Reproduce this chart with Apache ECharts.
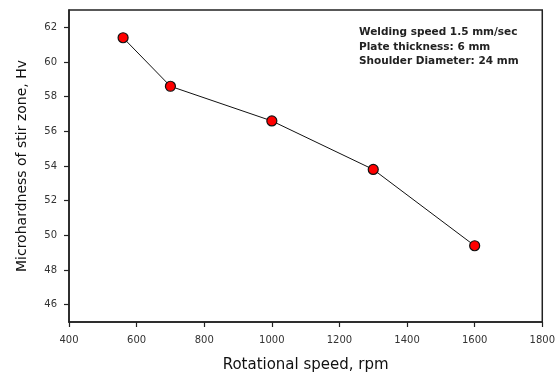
<!DOCTYPE html>
<html><head><meta charset="utf-8">
<script src="https://cdn.jsdelivr.net/npm/echarts@6/dist/echarts.min.js"></script>
<style>html,body{margin:0;padding:0;background:#fff}#c{width:558px;height:378px}</style>
</head><body><div id="c"></div>
<script>
const speeds = [560, 700, 1000, 1300, 1600];
const hardness = [61.4, 58.6, 56.6, 53.8, 49.4];
const yTicks = [46, 48, 50, 52, 54, 56, 58, 60, 62];
const xTicks = [400, 600, 800, 1000, 1200, 1400, 1600, 1800];
const notes = ['Welding speed 1.5 mm/sec', 'Plate thickness: 6 mm', 'Shoulder Diameter: 24 mm'];

const chart = echarts.init(document.getElementById('c'));
chart.setOption({
  animation: false,
  grid: {left: 69, right: 15, top: 10, bottom: 55, show: true, borderColor: '#222', borderWidth: 1.5},
  xAxis: {
    type: 'value', min: 400, max: 1800, interval: 200,
    name: 'Rotational speed, rpm', nameLocation: 'middle', nameGap: 36,
    nameTextStyle: {fontFamily: 'DejaVu Sans', fontSize: 15, color: '#111'},
    axisLine: {lineStyle: {color: '#222', width: 1.5}},
    axisTick: {show: true, length: 5, inside: false, customValues: xTicks, lineStyle: {color: '#222', width: 1.2}},
    axisLabel: {fontFamily: 'DejaVu Sans', fontSize: 10, color: '#333', margin: 13,
      customValues: xTicks, formatter: v => String(v)},
    splitLine: {show: false}
  },
  yAxis: {
    type: 'value', min: 45, max: 63,
    name: 'Microhardness of stir zone, Hv', nameLocation: 'middle', nameGap: 40,
    nameTextStyle: {fontFamily: 'DejaVu Sans', fontSize: 14, color: '#111'},
    axisLine: {lineStyle: {color: '#222', width: 1.5}},
    axisTick: {show: true, length: 5, customValues: yTicks, lineStyle: {color: '#222', width: 1.2}},
    axisLabel: {fontFamily: 'DejaVu Sans', fontSize: 10, color: '#333', margin: 12, customValues: yTicks},
    splitLine: {show: false}
  },
  series: [{
    type: 'line',
    data: speeds.map((s, i) => [s, hardness[i]]),
    symbol: 'circle', symbolSize: 10,
    lineStyle: {color: '#111', width: 1},
    itemStyle: {color: '#ff0000', borderColor: '#111', borderWidth: 1.2}
  }],
  graphic: notes.map((t, i) => ({
    type: 'text', left: 359, top: 27 + i * 14.5,
    style: {text: t, fontFamily: 'DejaVu Sans', fontSize: 10.5, fontWeight: 'bold', fill: '#222'}
  }))
});
</script></body></html>
